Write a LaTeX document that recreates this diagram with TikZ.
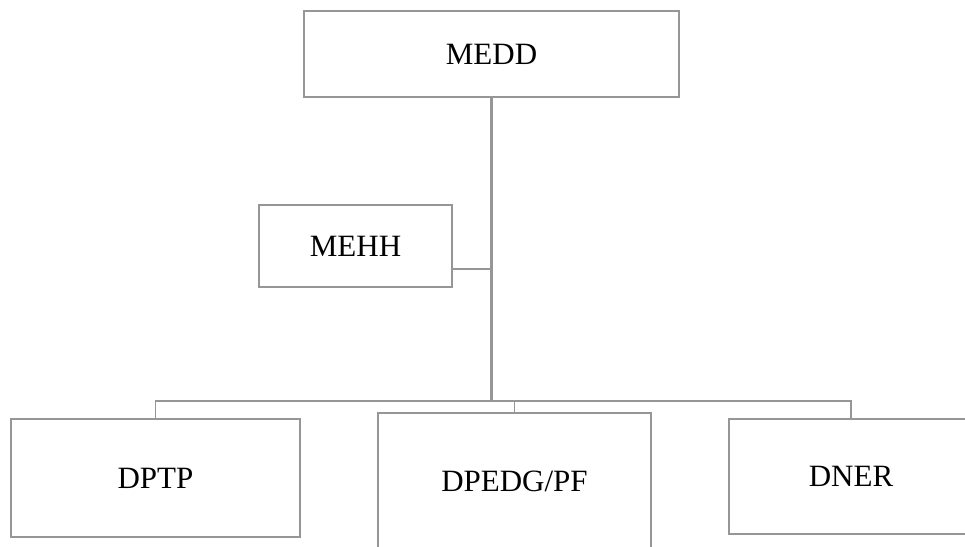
\documentclass[tikz,border=0pt]{standalone}
\usepackage{fontspec}
\setmainfont{Liberation Serif}
\definecolor{linegray}{RGB}{150,150,150}
\tikzset{
  orgbox/.style={draw=linegray, line width=1.9pt, fill=white, inner sep=0pt,
    font=\fontsize{31}{36}\selectfont, text=black},
  link/.style={draw=linegray, line width=1.9pt}
}
\begin{document}
\begin{tikzpicture}[x=1pt, y=-1pt]
  \useasboundingbox (0,0) rectangle (965,546);
  \clip (0,0) rectangle (965,546);

  % boxes
  \node[orgbox, minimum width=375, minimum height=86] (medd) at (491.5,54) {MEDD};
  \node[orgbox, minimum width=193, minimum height=82] (mehh) at (355.5,246) {MEHH};
  \node[orgbox, minimum width=289, minimum height=118] (dptp) at (155.5,478) {DPTP};
  \node[orgbox, minimum width=273, minimum height=136] (dpedg) at (514.5,481) {DPEDG/PF};
  \node[orgbox, minimum width=244, minimum height=115] (dner) at (851,476.5) {DNER};

  % junction points
  \coordinate (tap) at (491.5,269);
  \coordinate (hub) at (491.5,401);

  % connectors
  \draw[link, line width=2.4pt] (medd.south) -- (hub);
  \draw[link] (mehh.east |- tap) -- (tap);
  \draw[link] (dptp.north) |- (hub);
  \draw[link] (dner.north) |- (hub);
  \draw[link] (dpedg.north) |- (hub);
\end{tikzpicture}
\end{document}
